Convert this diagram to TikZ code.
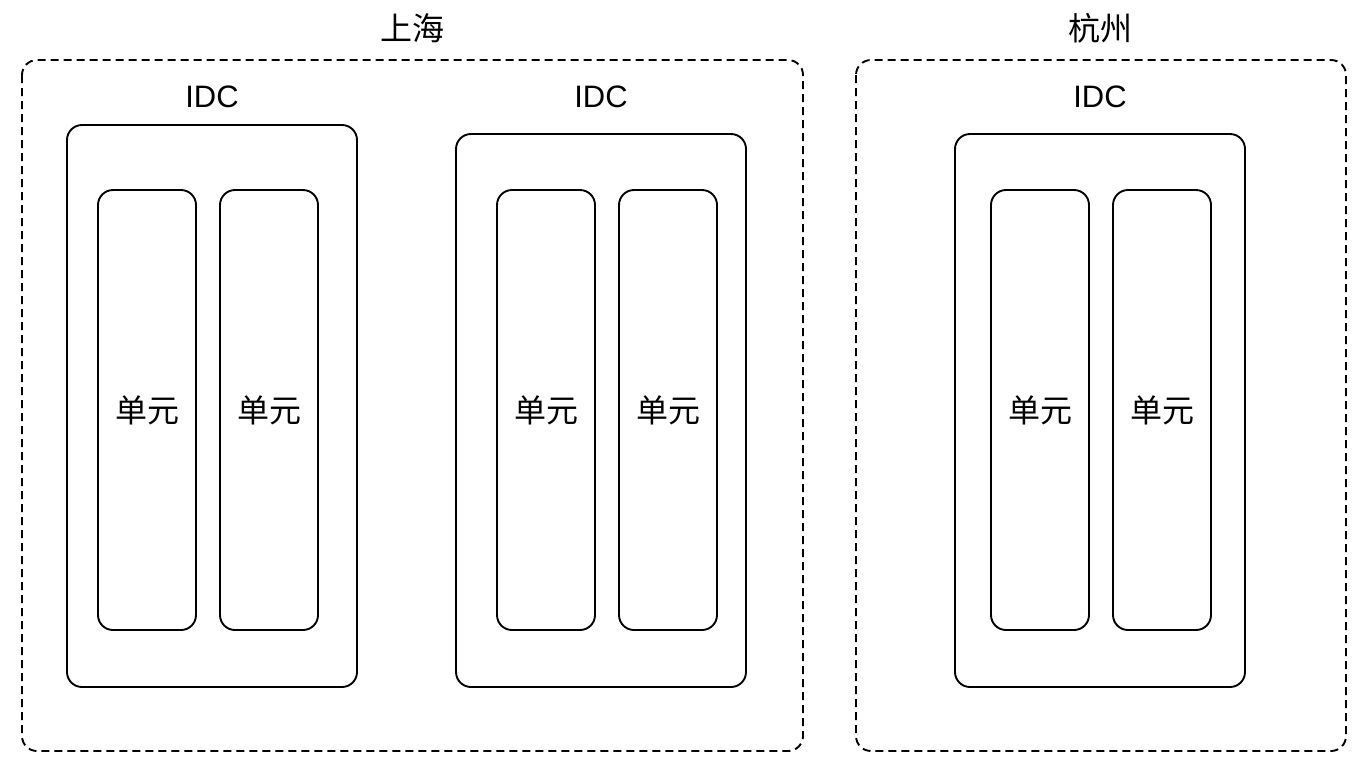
\documentclass[tikz,border=0pt]{standalone}
\usepackage{fontspec}
\setmainfont{Liberation Sans}
\newfontfamily\cjk{Noto Sans CJK SC}
\begin{document}
\begin{tikzpicture}[x=1pt,y=-1pt,
  region/.style={draw=black,line width=1.9pt,dash pattern=on 8pt off 5pt,rounded corners=15pt},
  idcbox/.style={draw=black,line width=1.9pt,rounded corners=15pt},
  unitbox/.style={draw=black,line width=1.9pt,rounded corners=15pt},
  lbl/.style={font=\fontsize{31}{34}\selectfont},
  cjklbl/.style={font=\cjk\fontsize{32}{35}\selectfont}]
\useasboundingbox (0,0) rectangle (1372,780);
% regions
\draw[region] (22,60) rectangle (803,751);
\draw[region] (856,60) rectangle (1346,751);
\node[cjklbl] (sh) at (412,28) {上海};
\node[cjklbl] (hz) at (1100,28) {杭州};
% data centres
\draw[idcbox] (67,125) rectangle (357,687);
\draw[idcbox] (456,134) rectangle (746,687);
\draw[idcbox] (955,134) rectangle (1245,687);
\node[lbl] (idc1) at (212,97) {IDC};
\node[lbl] (idc2) at (601,97) {IDC};
\node[lbl] (idc3) at (1100,97) {IDC};
% units
\foreach \x/\n in {98/a,220/b,497/c,619/d,991/e,1113/f}{
  \draw[unitbox] (\x,190) rectangle ++(98,440);
  \node[cjklbl] (u\n) at (\x+49,410) {单元};
}
\end{tikzpicture}
\end{document}
